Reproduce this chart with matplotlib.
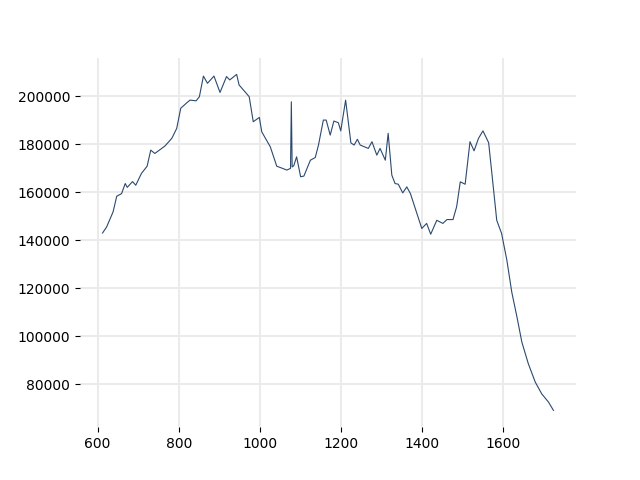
import numpy as np
import matplotlib
matplotlib.use("Agg")
import matplotlib.pyplot as plt

# valores
x = [612, 622, 638, 647, 659, 668, 673, 686, 694, 708, 722, 731, 741, 766,
     783, 795, 805, 820, 828, 843, 851, 861, 871, 887, 902, 918, 926, 943,
     949, 967, 974, 984, 999, 1005, 1026, 1042, 1050, 1067, 1076, 1078,
     1080, 1084, 1091, 1101, 1109, 1125, 1137, 1145, 1157, 1164, 1174, 1183,
     1194, 1200, 1212, 1225, 1233, 1241, 1248, 1268, 1277, 1289, 1297, 1310,
     1317, 1326, 1334, 1342, 1353, 1363, 1372, 1388, 1400, 1412, 1422,
     1437, 1452, 1462, 1477, 1486, 1495, 1507, 1519, 1529, 1540, 1551, 1565,
     1573, 1585, 1597, 1610, 1622, 1635, 1647, 1663, 1680, 1696, 1713, 1725]
y = [143000, 145500, 151800, 158300, 159400, 163600, 162000, 164400, 162900,
     167800, 170800, 177500, 176100, 179200, 182400, 186500, 194900, 197200,
     198300, 198000, 199700, 208300, 205300, 208300, 201500, 208100, 206700,
     209000, 204600, 201100, 199700, 189300, 191100, 185100, 178900, 170800,
     170300, 169200, 169900, 197600, 170500, 171000, 174700, 166400,
     166700, 173300, 174400, 179600, 190000, 190000, 183750, 189600, 188900,
     185500, 198300, 180500, 179600, 182000, 179600, 178200, 181000, 175400,
     178200, 173300, 184500, 167100, 163600, 163300, 159700, 162200,
     159400, 151100, 144900, 147000, 142500, 148300, 147000, 148600, 148600,
     153900, 164300, 163300, 181000, 177200, 182400, 185500, 180600, 167800,
     148300, 142800, 131700, 118500, 108000, 97600, 88600, 81000, 76100,
     72600, 69200]

fig, ax = plt.subplots(figsize=(6.4, 4.8), dpi=100)

ax.plot(x, y, color='#2b4a6e', linewidth=0.8)

ax.grid(True, color='#ebebeb', linewidth=1.5)
ax.set_axisbelow(True)
for s in ax.spines.values():
    s.set_visible(False)

ax.set_xticks([600, 800, 1000, 1200, 1400, 1600])
ax.set_yticks([80000, 100000, 120000, 140000, 160000, 180000, 200000])

fig.savefig("out.png")
